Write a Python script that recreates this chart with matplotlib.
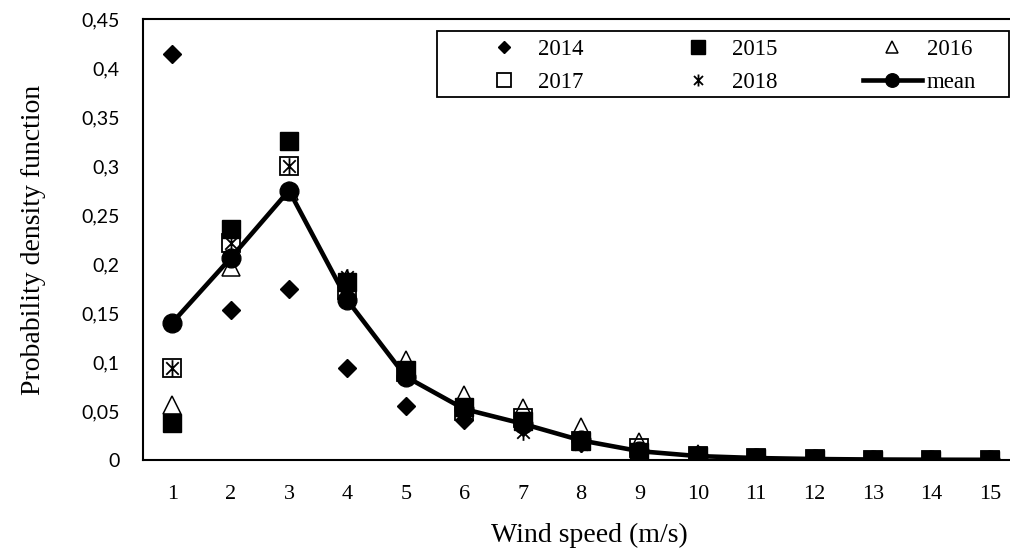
import numpy as np
import matplotlib.pyplot as plt
from matplotlib.path import Path
from matplotlib.patches import Rectangle
from matplotlib.ticker import FuncFormatter

wind_speed = list(range(1, 16))

y2014 = [0.414, 0.153, 0.175, 0.094, 0.055, 0.041, 0.034, 0.017, 0.008, 0.004, 0.002, 0.001, 0.0005, 0.0003, 0.0002]
y2015 = [0.038, 0.236, 0.326, 0.182, 0.092, 0.054, 0.040, 0.019, 0.008, 0.004, 0.002, 0.001, 0.0005, 0.0003, 0.0002]
y2016 = [0.056, 0.197, 0.274, 0.185, 0.102, 0.066, 0.053, 0.034, 0.018, 0.006, 0.002, 0.001, 0.0005, 0.0003, 0.0002]
y2017 = [0.094, 0.221, 0.300, 0.173, 0.090, 0.050, 0.043, 0.019, 0.012, 0.004, 0.002, 0.001, 0.0005, 0.0003, 0.0002]
y2018 = [0.094, 0.221, 0.300, 0.187, 0.090, 0.048, 0.029, 0.016, 0.007, 0.004, 0.002, 0.001, 0.0005, 0.0003, 0.0002]
y_mean = [0.140, 0.206, 0.275, 0.163, 0.085, 0.052, 0.037, 0.020, 0.009, 0.004, 0.002, 0.001, 0.0005, 0.0003, 0.0002]

yticks = [0, 0.05, 0.1, 0.15, 0.2, 0.25, 0.3, 0.35, 0.4, 0.45]

serif = "Liberation Serif"

# asterisk like excel's "star" marker: x plus a vertical bar
star = Path([(0, -1), (0, 1), (-0.75, -0.75), (0.75, 0.75), (-0.75, 0.75), (0.75, -0.75)],
            [Path.MOVETO, Path.LINETO] * 3)

fig = plt.figure(figsize=(10.1, 5.51), dpi=100)
ax = fig.add_axes([143 / 1010, 91 / 551, 876 / 1010, 441 / 551])

h14, = ax.plot(wind_speed, y2014, ls="none", marker="D", ms=9, color="black", label="2014")
h15, = ax.plot(wind_speed, y2015, ls="none", marker="s", ms=13.2, mfc="black", mec="black",
               mew=1.0, label="2015")
h16, = ax.plot(wind_speed, y2016, ls="none", marker="^", ms=12.5, mfc="none", mec="black",
               mew=1.1, label="2016")
h17, = ax.plot(wind_speed, y2017, ls="none", marker="s", ms=13.5, mfc="none", mec="black",
               mew=1.3, label="2017")
h18, = ax.plot(wind_speed, y2018, ls="none", marker=star, ms=12, color="black", mew=1.3,
               label="2018")
hm, = ax.plot(wind_speed, y_mean, "-o", color="black", lw=3.3, ms=13.5, label="mean")

ax.set_xlim(0.5, 15.5)
ax.set_ylim(0, 0.45)
ax.set_xticks(wind_speed)
ax.set_yticks(yticks)
ax.yaxis.set_major_formatter(FuncFormatter(lambda v, p: ("%g" % round(v, 2)).replace(".", ",")))
ax.tick_params(length=0)
ax.tick_params(axis="x", pad=18)
ax.tick_params(axis="y", pad=17)
for lab in ax.get_xticklabels():
    lab.set_fontfamily(serif)
    lab.set_fontsize(16)
for lab in ax.get_yticklabels():
    lab.set_fontfamily("Lato")
    lab.set_fontsize(14)
for sp in ax.spines.values():
    sp.set_linewidth(1.5)

ax.set_xlabel("Wind speed (m/s)", family=serif, fontsize=20, va="center", ha="center")
ax.xaxis.set_label_coords(0.51, -0.17)
ax.set_ylabel("Probability density function", family=serif, fontsize=20, va="center", ha="center")
ax.yaxis.set_label_coords(-0.125, 0.5)

# legend frame drawn separately, entries laid out row by row
fig.patches.append(Rectangle((437 / 1010, 1 - 97 / 551), 572 / 1010, 66 / 551,
                             transform=fig.transFigure, fill=False, ec="black", lw=1.3))
leg = fig.legend([h14, h17, h15, h18, h16, hm], ["2014", "2017", "2015", "2018", "2016", "mean"],
                 ncol=3, loc="center", bbox_to_anchor=(725 / 1010, 1 - 66 / 551),
                 frameon=False, prop={"family": serif, "size": 16.5}, markerscale=0.72,
                 handlelength=2.6, handletextpad=0.2, columnspacing=3.7, labelspacing=0.5)

fig.savefig("out.png", dpi=100)
